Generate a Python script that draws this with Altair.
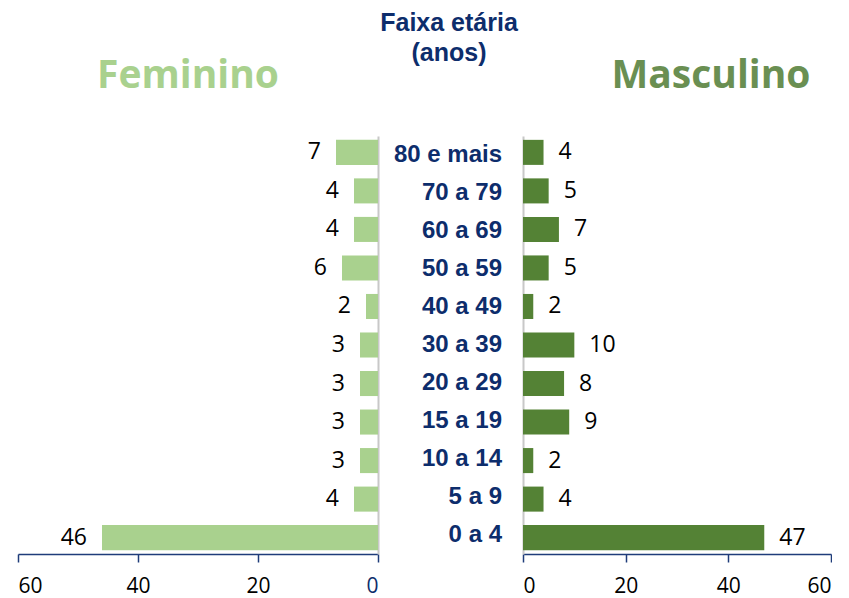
import altair as alt
import pandas as pd

categories = ["80 e mais", "70 a 79", "60 a 69", "50 a 59", "40 a 49", "30 a 39",
              "20 a 29", "15 a 19", "10 a 14", "5 a 9", "0 a 4"]
feminino = [7, 4, 4, 6, 2, 3, 3, 3, 3, 4, 46]
masculino = [4, 5, 7, 5, 2, 10, 8, 9, 2, 4, 47]
tick_values = [0, 20, 40, 60]

df = pd.DataFrame({"cat": categories, "fem": feminino, "masc": masculino})

NAVY = "#0d2d6c"
AXIS_NAVY = "#1f3c7a"
FEM = "#a9d18e"
MASC_BAR = "#548235"
MASC_TXT = "#6a8f52"
GRAY = "#c8c8c8"
H = 418

yscale = alt.Scale(domain=categories, paddingInner=0.35, paddingOuter=0.1)

def xaxis(left):
    lc = {"condition": {"test": "datum.value === 0", "value": NAVY}, "value": "black"} if left else "black"
    return alt.Axis(values=tick_values, grid=False, domainColor=AXIS_NAVY, domainWidth=1.5,
                    tickColor=AXIS_NAVY, tickWidth=1.5, tickSize=8, labelFontSize=21,
                    labelFont="Open Sans", labelColor=lc, labelPadding=13, title=None)

base = alt.Chart(df)

# Left (Feminino)
lbars = base.mark_bar(color=FEM).encode(
    x=alt.X("fem:Q", scale=alt.Scale(domain=[0, 60], reverse=True, nice=False), axis=xaxis(True)),
    y=alt.Y("cat:N", scale=yscale, sort=categories,
            axis=alt.Axis(orient="right", labels=False, ticks=False, title=None,
                          domainColor=GRAY, domainWidth=2)),
)
ltext = base.mark_text(align="right", baseline="middle", dx=-15, fontSize=23,
                       font="Open Sans", color="black").encode(
    x=alt.X("fem:Q"), y=alt.Y("cat:N", sort=categories), text="fem:Q")
ltitle = alt.Chart(pd.DataFrame({"t": ["Feminino"]})).mark_text(
    fontSize=39, font="Open Sans", fontWeight="bold", color=FEM, align="center", baseline="middle"
).encode(text="t:N", x=alt.value(170), y=alt.value(-60))
left = alt.layer(lbars, ltext, ltitle).properties(width=360, height=H)

# Middle (labels)
mtext = base.mark_text(align="right", baseline="middle", fontSize=24, fontWeight="bold",
                       font="Liberation Sans", color=NAVY).encode(
    y=alt.Y("cat:N", scale=yscale, sort=categories, axis=None),
    x=alt.value(123), text="cat:N")
mtitle = alt.Chart(pd.DataFrame({"t": ["Faixa etária\n(anos)"]})).mark_text(
    fontSize=25, font="Liberation Sans", fontWeight="bold", color=NAVY, align="center",
    baseline="middle", lineBreak="\n", lineHeight=30
).encode(text="t:N", x=alt.value(70), y=alt.value(-113))
mid = alt.layer(mtext, mtitle).properties(width=143, height=H)

# Right (Masculino)
rbars = base.mark_bar(color=MASC_BAR).encode(
    x=alt.X("masc:Q", scale=alt.Scale(domain=[0, 60], nice=False), axis=xaxis(False)),
    y=alt.Y("cat:N", scale=yscale, sort=categories,
            axis=alt.Axis(orient="left", labels=False, ticks=False, title=None,
                          domainColor=GRAY, domainWidth=2)),
)
rtext = base.mark_text(align="left", baseline="middle", dx=15, fontSize=23,
                       font="Open Sans", color="black").encode(
    x=alt.X("masc:Q"), y=alt.Y("cat:N", sort=categories), text="masc:Q")
rtitle = alt.Chart(pd.DataFrame({"t": ["Masculino"]})).mark_text(
    fontSize=39, font="Open Sans", fontWeight="bold", color=MASC_TXT, align="center", baseline="middle"
).encode(text="t:N", x=alt.value(188), y=alt.value(-60))
right = alt.layer(rbars, rtext, rtitle).properties(width=308, height=H)

chart = alt.hconcat(left, mid, right, spacing=0).properties(
    padding={"left": 9, "top": 3, "right": 0, "bottom": 4}
).configure_view(stroke=None)

chart.save("out.html", embed_options={"renderer": "svg", "actions": False})
